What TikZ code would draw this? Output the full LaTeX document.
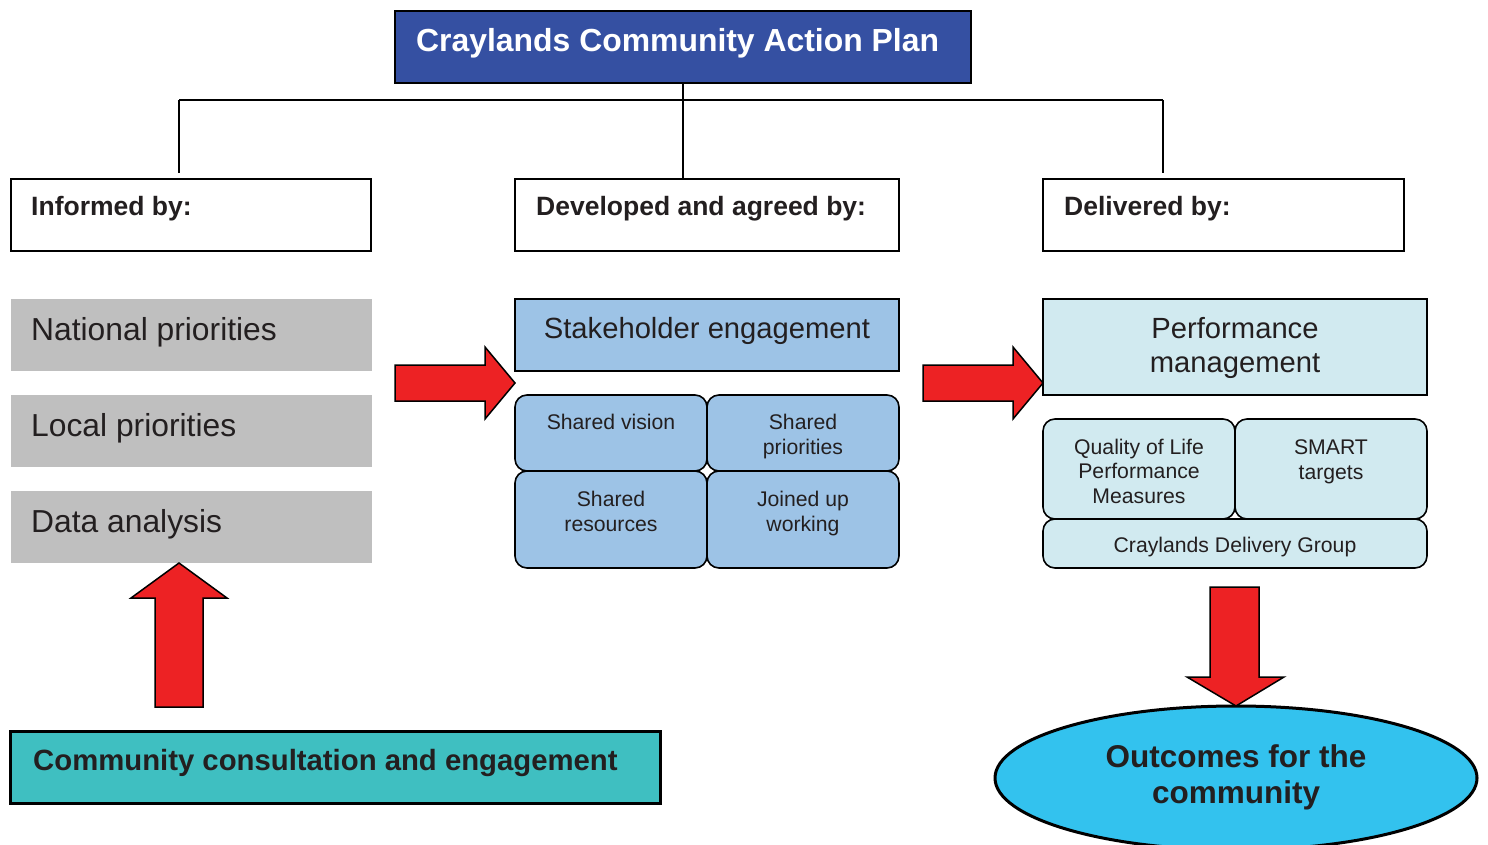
\documentclass[tikz,border=0pt]{standalone}
\usepackage{fontspec}
\setmainfont{Liberation Sans}
\usetikzlibrary{shapes.geometric}
\definecolor{titleblue}{RGB}{53,80,162}
\definecolor{greybox}{RGB}{191,191,191}
\definecolor{skyblue}{RGB}{157,195,230}
\definecolor{paleblue}{RGB}{209,234,240}
\definecolor{arrowred}{RGB}{237,34,36}
\definecolor{teal}{RGB}{63,191,193}
\definecolor{cyanfill}{RGB}{51,194,238}
\definecolor{txt}{RGB}{35,31,32}
\begin{document}
\begin{tikzpicture}[x=1pt,y=-1pt,
  box/.style={draw=black, line width=1.6pt, inner sep=0pt, outer sep=0pt, anchor=north west},
  plain/.style={inner sep=0pt, outer sep=0pt, anchor=north west},
  rbox/.style={box, rounded corners=12pt},
  lbl/.style={inner sep=0pt, text=txt, anchor=base, align=center},
  lblw/.style={inner sep=0pt, text=txt, anchor=base west},
  big/.style={font=\fontsize{31.8}{36}\selectfont},
  mid/.style={font=\fontsize{29.2}{33.5}\selectfont},
  small/.style={font=\fontsize{21.2}{24.5}\selectfont},
  head/.style={font=\bfseries\fontsize{26.5}{30}\selectfont},
  conn/.style={draw=black, line width=1.8pt},
  blockarrow/.style={fill=arrowred, draw=black, line width=1.5pt, line join=miter}]
\clip (0,0) rectangle (1488,845);
\fill[white] (0,0) rectangle (1488,845);

% title
\node[box, fill=titleblue, minimum width=576, minimum height=72] (title) at (395,11) {};
\node[inner sep=0pt, anchor=base west, text=white, font=\bfseries\fontsize{31.9}{36}\selectfont] (titletext) at (416,52) {Craylands Community Action Plan};

% header boxes
\node[box, minimum width=360, minimum height=72] (inf) at (11,179) {};
\node[box, minimum width=384, minimum height=72] (dev) at (515,179) {};
\node[box, minimum width=361, minimum height=72] (del) at (1043,179) {};
\node[lblw, head] (inftext) at (31,215) {Informed by:};
\node[lblw, head] (devtext) at (536,215) {Developed and agreed by:};
\node[lblw, head] (deltext) at (1064,215) {Delivered by:};

% connectors
\coordinate (jL) at (179,100);
\coordinate (jR) at (1163,100);
\coordinate (eL) at (179,173);
\coordinate (eR) at (1163,173);
\draw[conn] (title.south) -- (title.south |- dev.north);
\draw[conn] (jL) -- (jR);
\draw[conn] (jL) -- (eL);
\draw[conn] (jR) -- (eR);

% grey boxes
\node[plain, fill=greybox, minimum width=361, minimum height=72] (nat) at (11,299) {};
\node[plain, fill=greybox, minimum width=361, minimum height=72] (loc) at (11,395) {};
\node[plain, fill=greybox, minimum width=361, minimum height=72] (dat) at (11,491) {};
\node[lblw, big] (nattext) at (31,340) {National priorities};
\node[lblw, big] (loctext) at (31,436) {Local priorities};
\node[lblw, big] (dattext) at (31,532) {Data analysis};

% stakeholder column
\node[box, fill=skyblue, minimum width=384, minimum height=72] (stake) at (515,299) {};
\node[lbl, mid] (staketext) at (707,338) {Stakeholder engagement};
\node[rbox, fill=skyblue, minimum width=192, minimum height=76] (sv) at (515,395) {};
\node[rbox, fill=skyblue, minimum width=192, minimum height=76] (sp) at (707,395) {};
\node[rbox, fill=skyblue, minimum width=192, minimum height=97] (sr) at (515,471) {};
\node[rbox, fill=skyblue, minimum width=192, minimum height=97] (ju) at (707,471) {};
\node[lbl, small] (svtext) at (611,429) {Shared vision};
\node[lbl, small] (sptext) at (803,454) {Shared\\priorities};
\node[lbl, small] (srtext) at (611,531) {Shared\\resources};
\node[lbl, small] (jutext) at (803,531) {Joined up\\working};

% performance column
\node[box, fill=paleblue, minimum width=384, minimum height=96] (perf) at (1043,299) {};
\node[lbl, mid] (perftext) at (1235,372) {Performance\\management};
\node[rbox, fill=paleblue, minimum width=192, minimum height=100] (qol) at (1043,419) {};
\node[rbox, fill=paleblue, minimum width=192, minimum height=100] (smart) at (1235,419) {};
\node[rbox, fill=paleblue, minimum width=384, minimum height=49] (cdg) at (1043,519) {};
\node[lbl, small] (qoltext) at (1139,503) {Quality of Life\\Performance\\Measures};
\node[lbl, small] (smarttext) at (1331,479) {SMART\\targets};
\node[lbl, small] (cdgtext) at (1235,552) {Craylands Delivery Group};

% community box
\node[box, line width=3pt, fill=teal, minimum width=650, minimum height=72] (comm) at (10,731) {};
\node[lblw, font=\bfseries\fontsize{29.3}{33}\selectfont] (commtext) at (33,770) {Community consultation and engagement};

% outcomes ellipse
\node[ellipse, draw=black, line width=3pt, fill=cyanfill, minimum width=482, minimum height=144, inner sep=0pt] (out) at (1236,778) {};
\node[lbl, font=\bfseries\fontsize{31.5}{36}\selectfont] (outtext) at (1236,803) {Outcomes for the\\community};

% block arrows
\draw[blockarrow] (395,365) -- (485,365) -- (485,347) -- (515,383) -- (485,419) -- (485,401) -- (395,401) -- cycle;
\draw[blockarrow] (923,365) -- (1013,365) -- (1013,347) -- (1043,383) -- (1013,419) -- (1013,401) -- (923,401) -- cycle;
\draw[blockarrow] (155,707) -- (155,598) -- (131,598) -- (179,563) -- (227,598) -- (203,598) -- (203,707) -- cycle;
\draw[blockarrow] (1210,587) -- (1259,587) -- (1259,677) -- (1284,677) -- (1236,706) -- (1187,677) -- (1210,677) -- cycle;
\end{tikzpicture}
\end{document}
